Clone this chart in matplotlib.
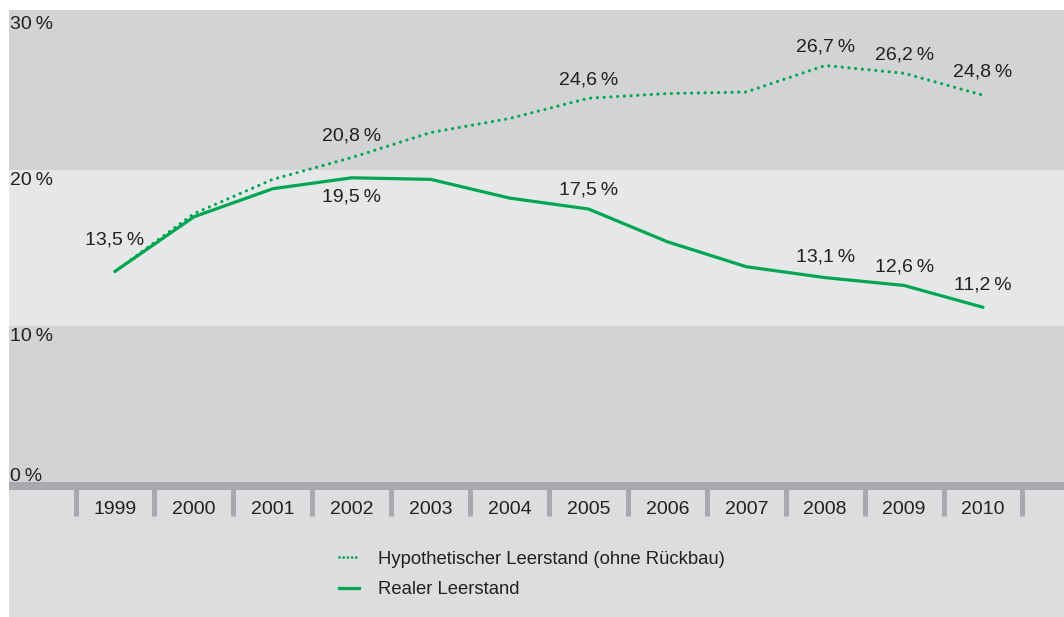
import matplotlib
matplotlib.use("Agg")
import matplotlib.pyplot as plt
from matplotlib.lines import Line2D

# Leerstand in Prozent, 1999-2010
years = [1999, 2000, 2001, 2002, 2003, 2004, 2005, 2006, 2007, 2008, 2009, 2010]
hypothetisch = [13.5, 17.2, 19.4, 20.8, 22.4, 23.3, 24.6, 24.9, 25.0, 26.7, 26.2, 24.8]
real = [13.5, 17.0, 18.8, 19.5, 19.4, 18.2, 17.5, 15.4, 13.8, 13.1, 12.6, 11.2]

# beschriftete Punkte: (Jahr, vertikaler Versatz in Prozentpunkten)
labels_hyp = [(2002, 1.4), (2005, 1.2), (2008, 1.2), (2009, 1.2), (2010, 1.5)]
labels_real = [(1999, 2.0), (2002, -1.2), (2005, 1.2), (2008, 1.3), (2009, 1.2), (2010, 1.4)]

y_ticks = [0, 10, 20, 30]

GREEN = "#00a651"
TEXT = "#231f20"
DARK_BAND = "#d2d3d5"
LIGHT_BAND = "#e6e7e8"
FOOT = "#dcdddf"
RULE = "#a7a9ac"
FS = 14
DOTS = (0, (0.01, 2.1))

plt.rcParams["font.family"] = ["Liberation Sans", "DejaVu Sans"]

W, H = 1064, 617
fig = plt.figure(figsize=(W / 100, H / 100), dpi=100, facecolor="white")

# Achsenfläche in Pixeln: links 9, oben 10, bis zum rechten/unteren Rand
ax = fig.add_axes([9 / W, 0, (W - 9) / W, (H - 10) / H])
px_per_pct = 15.6
px_per_year = 78.9
y_zero_px = 482 - 10
ymax = y_zero_px / px_per_pct
ymin = -(H - 10 - y_zero_px) / px_per_pct
xmin = years[0] - (115 - 9) / px_per_year
xmax = years[-1] + (W - 983) / px_per_year
ax.set_xlim(xmin, xmax)
ax.set_ylim(ymin, ymax)
ax.axis("off")

# Hintergrundbänder
ax.axhspan(20, ymax, color=DARK_BAND, lw=0, zorder=0)
ax.axhspan(10, 20, color=LIGHT_BAND, lw=0, zorder=0)
ax.axhspan(0, 10, color=DARK_BAND, lw=0, zorder=0)
ax.axhspan(ymin, 0, color=FOOT, lw=0, zorder=0)

# Nulllinie und Jahrestrenner
ax.axhspan(-8 / px_per_pct, 0, color=RULE, lw=0, zorder=1)
seps = [y - 0.5 for y in years] + [years[-1] + 0.5]
ax.vlines(seps, -34 / px_per_pct, -7 / px_per_pct, color=RULE, lw=3.6, zorder=1)
for y in years:
    ax.text(y, -27.5 / px_per_pct, str(y), ha="center", va="center",
            fontsize=FS, color=TEXT)

# y-Beschriftung
for t in y_ticks:
    if t == 0:
        ax.text(xmin + 0.01, t + 0.05, f"{t}\u2009%", ha="left", va="baseline",
                fontsize=FS, color=TEXT)
    else:
        ax.text(xmin + 0.01, min(t, ymax) - 0.1, f"{t}\u2009%", ha="left",
                va="top", fontsize=FS, color=TEXT)

# Linien
ax.plot(years, hypothetisch, color=GREEN, lw=2.3, linestyle=DOTS,
        dash_capstyle="round", zorder=3)
ax.plot(years, real, color=GREEN, lw=2.3, solid_capstyle="round", zorder=4)


def fmt(v):
    return f"{v:.1f}".replace(".", ",") + "\u2009%"


for yr, dy in labels_hyp:
    v = hypothetisch[years.index(yr)]
    ax.text(yr, v + dy, fmt(v), ha="center", va="center", fontsize=FS, color=TEXT)
for yr, dy in labels_real:
    v = real[years.index(yr)]
    ax.text(yr, v + dy, fmt(v), ha="center", va="center", fontsize=FS, color=TEXT)

# Legende
LFS = 13.3
handles = [
    Line2D([], [], color=GREEN, lw=2.0, linestyle=(0, (0.01, 1.5)),
           dash_capstyle="round"),
    Line2D([], [], color=GREEN, lw=2.3),
]
fig.legend(handles, ["Hypothetischer Leerstand (ohne Rückbau)", "Realer Leerstand"],
           loc="upper left", bbox_to_anchor=(322 / W, 1 - 534 / H),
           frameon=False, fontsize=LFS, handlelength=1.08, handletextpad=1.03,
           labelspacing=0.73, labelcolor=TEXT)

fig.savefig("out.png", dpi=100, facecolor="white")
